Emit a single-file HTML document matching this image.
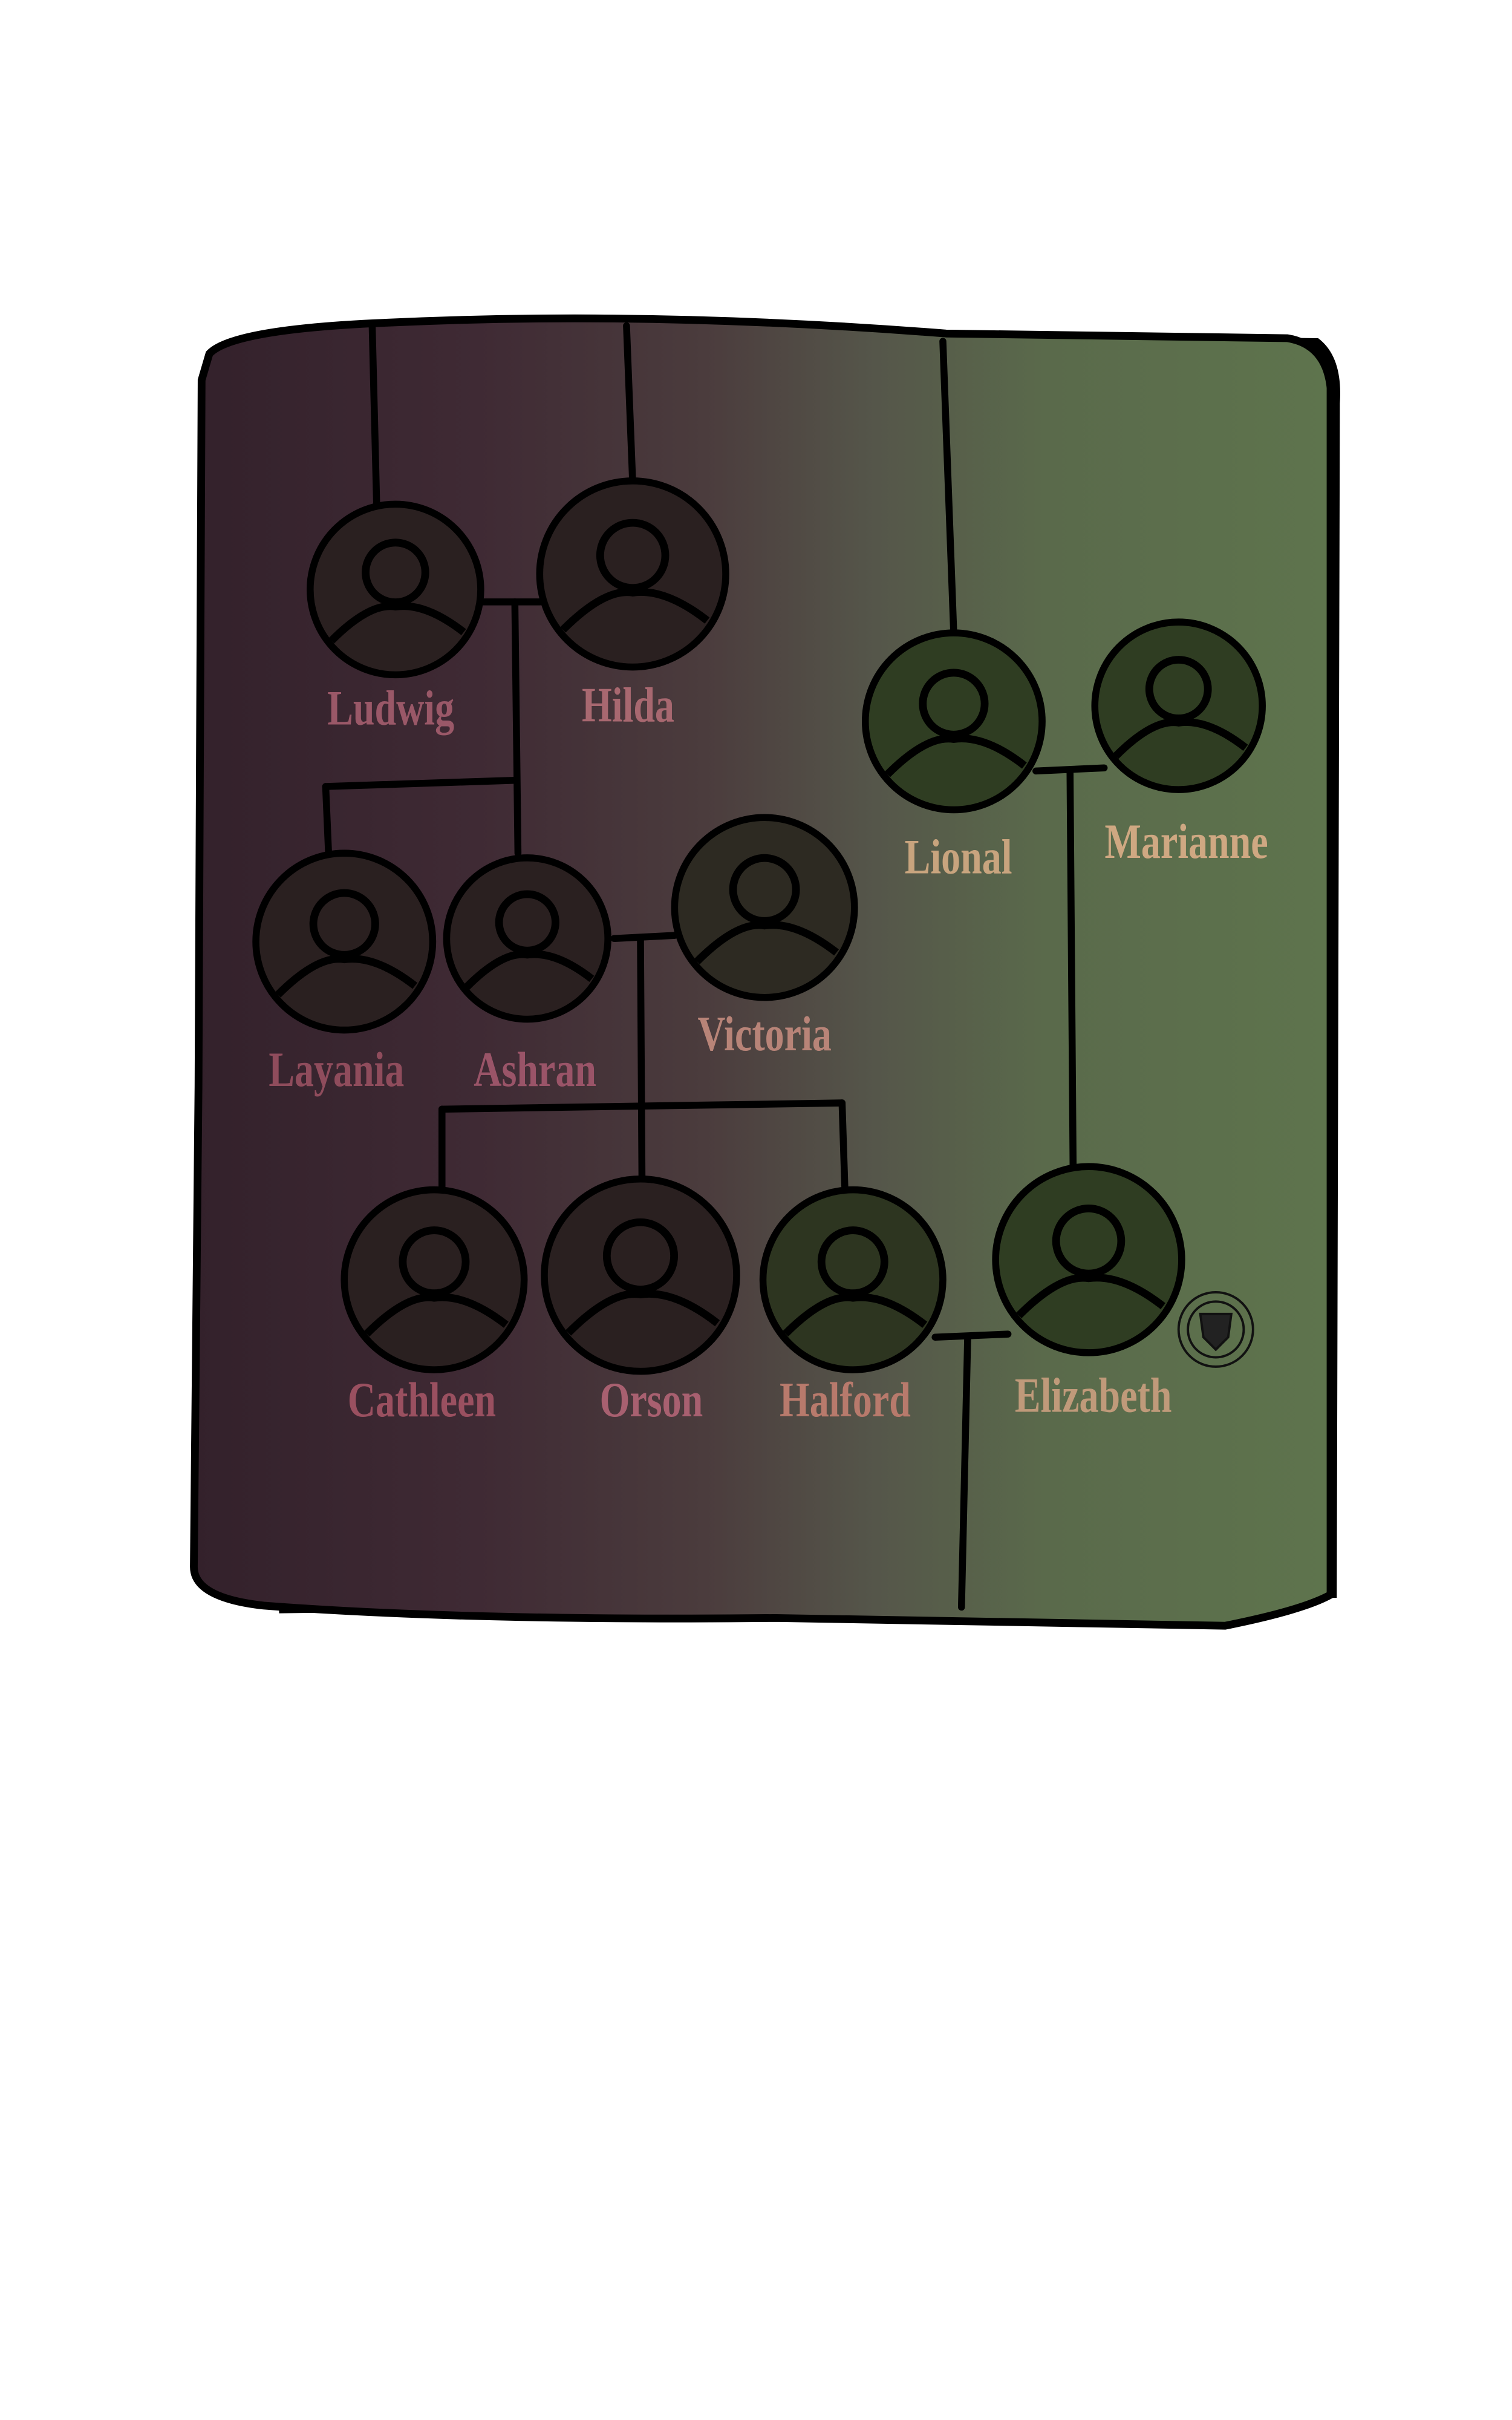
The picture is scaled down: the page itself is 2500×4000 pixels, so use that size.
<!DOCTYPE html>
<html><head><meta charset="utf-8"><style>html,body{margin:0;padding:0;background:#fff}svg{display:block}</style></head>
<body>
<svg width="2500" height="4000" viewBox="0 0 975 1560" xmlns="http://www.w3.org/2000/svg">
<defs>
<linearGradient id="bg" x1="0" x2="1" y1="0" y2="0">
<stop offset="0" stop-color="#33212b"/>
<stop offset="0.25" stop-color="#3f2a34"/>
<stop offset="0.45" stop-color="#4b3c3d"/>
<stop offset="0.6" stop-color="#55564a"/>
<stop offset="0.75" stop-color="#5a6a4b"/>
<stop offset="1" stop-color="#5e744d"/>
</linearGradient>
</defs>
<path d="M140 222 Q300 205 610 215 L850 218 Q866 230 864 260 L862 1030 L180 1040 Z" fill="#000"/>
<path d="M135 228 Q150 212 250 208 Q420 200 610 215 L830 218 Q855 222 858 250 L858 1028 Q840 1038 790 1048 L500 1043 Q300 1045 170 1035 Q125 1030 125 1010 L128 700 L130 245 Z" fill="url(#bg)" stroke="#000" stroke-width="5"/>
<g stroke="#000" stroke-width="4.5" fill="none" stroke-linecap="round">
<path d="M240 210 L243 330"/><path d="M404 210 L408 312"/><path d="M608 220 L615 408"/>
<path d="M310 388 L348 388"/><path d="M332 388 L334 550"/>
<path d="M210 507 L332 503"/><path d="M210 507 L212 553"/>
<path d="M396 605 L435 603"/><path d="M413 605 L414 765"/>
<path d="M285 715 L543 711"/><path d="M285 715 L285 772"/><path d="M543 711 L545 772"/>
<path d="M668 497 L712 495"/><path d="M690 497 L692 755"/>
<path d="M603 862 L650 860"/><path d="M624 862 L620 1036"/>
</g>
<g id="people"></g>
<g fill="none" stroke="#111" stroke-width="1.5"><circle cx="784" cy="857" r="24"/><circle cx="784" cy="857" r="18"/><path d="M774 847 L794 847 L792 862 L784 870 L776 862 Z" fill="#222"/></g>
</svg>
<script>
const names=["Ludwig","Hilda","Lional","Marianne","Layania","Ashran","Victoria","Cathleen","Orson","Halford","Elizabeth"];
const cx=[255,408,615,760,222,340,493,280,413,550,702];
const cy=[380,370,465,455,607,605,585,825,822,825,812];
const rad=[55,60,57,54,57,52,58,58,62,58,60];
const lx=[252,405,618,765,217,345,493,272,420,545,705];
const ly=[467,465,563,553,700,700,677,913,913,913,910];
const fill=["#2a2020","#2a2020","#2f3d22","#2f3d22","#2a2020","#2a2020","#2d2a22","#2a2020","#2a2020","#2d3520","#2f3d22"];
const tcol=["#9a5868","#a86870","#c8a47e","#cfa882","#8f4c5c","#9a5468","#b88478","#9a5060","#a86070","#b87a6c","#c09a7a"];
const g=document.getElementById('people');const ns="http://www.w3.org/2000/svg";
names.forEach((n,i)=>{
 const grp=document.createElementNS(ns,'g');
 
 
 const r=rad[i],x=cx[i],y=cy[i];
 grp.innerHTML=`<circle cx="${x}" cy="${y}" r="${r}" fill="${fill[i]}" stroke="#000" stroke-width="4.5"/>
 <circle cx="${x}" cy="${y-r*0.2}" r="${r*0.35}" fill="none" stroke="#000" stroke-width="5"/>
 <path d="M${x-r*0.75} ${y+r*0.6} Q${x-r*0.3} ${y+r*0.15} ${x} ${y+r*0.2} Q${x+r*0.35} ${y+r*0.15} ${x+r*0.8} ${y+r*0.5}" fill="none" stroke="#000" stroke-width="5"/>
 <text x="${lx[i]}" y="${ly[i]}" text-anchor="middle" font-family="Liberation Serif, serif" font-size="32" font-weight="bold" fill="${tcol[i]}" transform="translate(${lx[i]},0) scale(0.78,1) translate(${-lx[i]},0)">${n}</text>`;
 g.appendChild(grp);
});
</script>
</body></html>
